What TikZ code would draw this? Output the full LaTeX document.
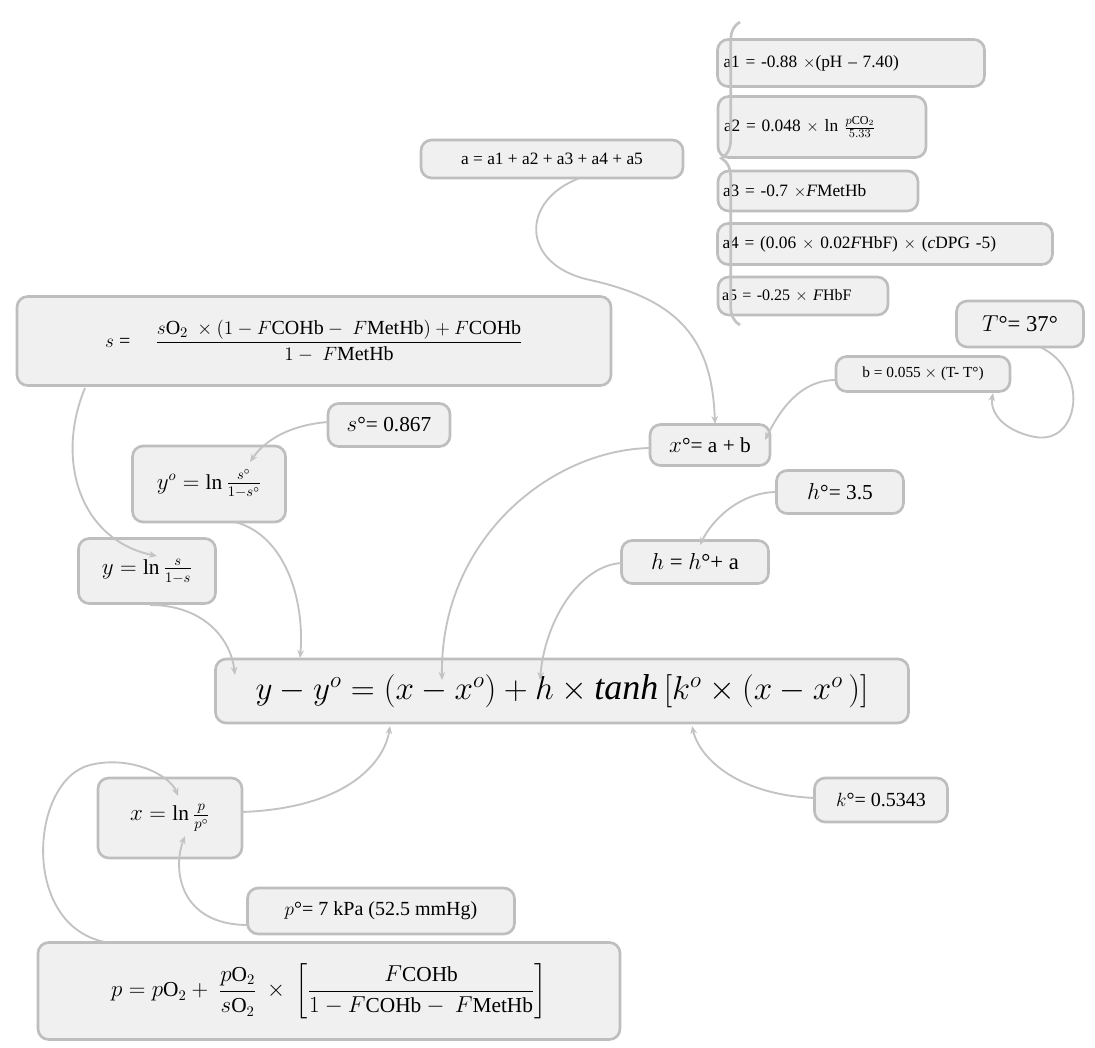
\documentclass[tikz,border=0pt]{standalone}
\usepackage{amsmath}
\usepackage{fontspec}
\setmainfont{Liberation Serif}
\usetikzlibrary{arrows.meta,decorations.pathreplacing}
\definecolor{bord}{RGB}{190,190,190}
\definecolor{fillg}{RGB}{240,240,240}
\definecolor{conn}{RGB}{195,195,195}
\tikzset{
 box/.style={draw=bord,fill=fillg,line width=2pt,rounded corners=8pt,inner sep=0pt,font=\fontsize{13}{15}\selectfont},
 con/.style={draw=conn,line width=1.4pt,-{Stealth[length=6pt,width=5pt]}},
}
\newcommand{\bx}[6]{\node[box,minimum width=#3*0.75pt,minimum height=#4*0.75pt] (#5) at (#1,#2) {#6};}
\begin{document}
\begin{tikzpicture}[x=0.75pt,y=-0.75pt]
\useasboundingbox (0,0) rectangle (1095,1048);
\bx{552}{159}{262}{38}{ab}{a = a1 + a2 + a3 + a4 + a5}
\node[box,minimum width=267*0.75pt,minimum height=47*0.75pt,text width=255*0.75pt] (a1) at (851,63) {a1 = -0.88 $\times$(pH -- 7.40)};
\node[box,minimum width=208*0.75pt,minimum height=61*0.75pt,text width=196*0.75pt] (a2) at (822,127) {a2 = 0.048 $\times$ ln $\frac{p\mathrm{CO}_2}{5.33}$};
\node[box,minimum width=200*0.75pt,minimum height=40*0.75pt,text width=190*0.75pt] (a3) at (818,191) {a3 = -0.7 $\times$\textit{F}MetHb};
\node[box,minimum width=335*0.75pt,minimum height=41*0.75pt,text width=325*0.75pt] (a4) at (885,244) {a4 = (0.06 $\times$ 0.02\textit{F}HbF) $\times$ (\textit{c}DPG -5)};
\node[box,minimum width=170*0.75pt,minimum height=38*0.75pt,text width=162*0.75pt,font=\fontsize{12}{14}\selectfont] (a5) at (803,296) {a5 = -0.25 $\times$ \textit{F}HbF};
\draw[draw=conn,line width=2pt,decorate,decoration={brace,amplitude=14pt,mirror,aspect=0.45}] (740,22) -- (740,325);
\bx{1020}{324}{127}{46}{T}{\fontsize{17}{19}\selectfont $T$°= 37°}
\node[box,minimum width=174*0.75pt,minimum height=35*0.75pt,font=\fontsize{11.5}{13}\selectfont] (b) at (923,374) {b = 0.055 $\times$ (T- T°)};
\bx{710}{445}{120}{41}{xo}{\fontsize{16}{18}\selectfont $x$°= a + b}
\bx{840}{492}{127}{43}{ho}{\fontsize{16}{18}\selectfont $h$°= 3.5}
\bx{695}{562}{147}{43}{h}{\fontsize{17}{19}\selectfont $h$ = $h$°+ a}
\bx{314}{341}{594}{89}{s}{\fontsize{15}{17}\selectfont $s$ = \quad $\displaystyle\frac{s\mathrm{O}_2\ \times(1-F\mathrm{COHb}-\ F\mathrm{MetHb})+F\mathrm{COHb}}{1-\ F\mathrm{MetHb}}$}
\bx{389}{425}{122}{43}{so}{\fontsize{16}{18}\selectfont $s$°= 0.867}
\bx{209}{484}{153}{76}{yo}{\fontsize{16}{18}\selectfont $y^o = \ln\frac{s^\circ}{1-s^\circ}$}
\bx{147}{571}{137}{65}{y}{\fontsize{16}{18}\selectfont $y = \ln\frac{s}{1-s}$}
\bx{562}{691}{693}{64}{m}{\fontsize{27}{30}\selectfont $y-y^o=(x-x^o)+h\times \mathit{tanh}\,[k^o\times(x-x^o\,)]$}
\bx{881}{800}{133}{44}{k}{\fontsize{15}{17}\selectfont $k$°= 0.5343}
\bx{170}{818}{144}{80}{x}{\fontsize{16}{18}\selectfont $x = \ln\frac{p}{p^\circ}$}
\bx{381}{911}{267}{46}{po}{\fontsize{15}{17}\selectfont $p$°= 7 kPa (52.5 mmHg)}
\bx{329}{991}{582}{97}{p}{\fontsize{16}{18}\selectfont $p=p\mathrm{O}_2+\ \dfrac{p\mathrm{O}_2}{s\mathrm{O}_2}\ \times\ \left[\dfrac{F\mathrm{COHb}}{1-F\mathrm{COHb}-\ F\mathrm{MetHb}}\right]$}
% connectors
\draw[con] (580,178) .. controls (520,200) and (520,265) .. (590,280) .. controls (680,300) and (712,340) .. (715,424);
\draw[con] (836,380) .. controls (800,380) and (780,410) .. (765,440);
\draw[con] (1040,347) .. controls (1090,370) and (1080,445) .. (1035,437) .. controls (1000,430) and (990,410) .. (993,393);
\draw[con] (85,388) .. controls (55,460) and (80,540) .. (157,556);
\draw[con] (328,422) .. controls (290,425) and (265,440) .. (250,462);
\draw[con] (235,522) .. controls (285,535) and (305,600) .. (300,658);
\draw[con] (150,605) .. controls (200,605) and (230,635) .. (235,675);
\draw[con] (650,448) .. controls (550,450) and (440,540) .. (442,680);
\draw[con] (622,563) .. controls (580,565) and (545,620) .. (540,680);
\draw[con] (777,492) .. controls (740,492) and (712,520) .. (700,545);
\draw[con] (815,798) .. controls (740,795) and (700,760) .. (692,726);
\draw[con] (242,812) .. controls (350,808) and (385,760) .. (390,726);
\draw[con] (248,925) .. controls (180,925) and (172,870) .. (185,836);
\draw[con] (105,942) .. controls (20,925) and (30,780) .. (90,765) .. controls (130,755) and (170,775) .. (178,796);
\end{tikzpicture}
\end{document}
